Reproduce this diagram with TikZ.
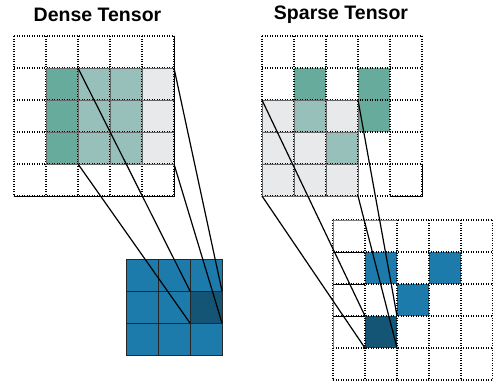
\documentclass[tikz,border=0pt]{standalone}
\usepackage{fontspec}
\setmainfont{Liberation Sans}
\definecolor{tealdark}{HTML}{66AB9C}
\definecolor{teallight}{HTML}{96C0B9}
\definecolor{greycell}{HTML}{E8E9EB}
\definecolor{bluecell}{HTML}{1C7BAB}
\definecolor{bluedark}{HTML}{145575}
\tikzset{
  gridline/.style={dash pattern=on 1.1pt off 1.4pt, line width=1.1pt, black},
  cellborder/.style={draw=black!60, line width=1pt},
  kernelborder/.style={draw=black!85, line width=1pt},
  link/.style={line width=1.2pt, black},
  title/.style={font=\bfseries\fontsize{19.5}{22}\selectfont, inner sep=0pt}
}
\newcommand{\dotgrid}[2]{%
  \foreach \k in {0,...,5} {
    \draw[gridline] (#1+32*\k,#2) -- (#1+32*\k,#2+160);
    \draw[gridline] (#1,#2+32*\k) -- (#1+160,#2+32*\k);
  }}
\begin{document}
\begin{tikzpicture}[x=1pt,y=-1pt]
\useasboundingbox (0,0) rectangle (493,383);
% titles
\node[title] (tdense) at (97.5,15) {Dense Tensor};
\node[title] (tsparse) at (341,15) {Sparse Tensor};

% ---------- dense tensor ----------
\fill[tealdark] (46,68) rectangle (78,164);
\fill[teallight] (78,68) rectangle (142,164);
\fill[greycell] (142,68) rectangle (174,164);
\dotgrid{14}{36}
\foreach \i in {0,...,3} \foreach \j in {0,...,2}
  \draw[cellborder] (46+32*\i,68+32*\j) rectangle ++(32,32);
\draw[line width=0.8pt] (174,36) -- (174,196) -- (14,196);

% ---------- sparse tensor ----------
\fill[greycell] (262,100) rectangle (358,196);
\fill[teallight] (294,100) rectangle ++(32,32);
\fill[teallight] (326,132) rectangle ++(32,32);
\fill[tealdark] (294,68) rectangle ++(32,32);
\fill[tealdark] (358,68) rectangle ++(32,64);
\dotgrid{262}{36}
\foreach \i in {0,...,2} \foreach \j in {0,...,2}
  \draw[cellborder] (262+32*\i,100+32*\j) rectangle ++(32,32);
\draw[line width=0.8pt] (390,196) -- (422,196) -- (422,164);

% ---------- kernel (dense output) ----------
\fill[bluecell] (126,259) rectangle (222,355);
\fill[bluedark] (190,291) rectangle ++(32,32);
\foreach \i in {0,...,2} \foreach \j in {0,...,2}
  \draw[kernelborder] (126+32*\i,259+32*\j) rectangle ++(32,32);

% ---------- sparse output ----------
\fill[bluecell] (365,252) rectangle ++(32,32);
\fill[bluecell] (429,252) rectangle ++(32,32);
\fill[bluecell] (397,284) rectangle ++(32,32);
\fill[bluedark] (365,316) rectangle ++(32,32);
\dotgrid{333}{220}
\draw[draw=black!50, line width=1pt] (333,348) -- (333,220) -- (397,220);
\draw[line width=1pt] (333,252) -- (365,252) (333,284) -- (365,284) (333,316) -- (365,316);

% ---------- corner coordinates ----------
\coordinate (dA) at (78,68);
\coordinate (dB) at (174,68);
\coordinate (dC) at (78,164);
\coordinate (dD) at (174,164);
\coordinate (kA) at (190,291);
\coordinate (kB) at (222,291);
\coordinate (kC) at (190,323);
\coordinate (kD) at (222,323);
\coordinate (sA) at (262,100);
\coordinate (sB) at (358,100);
\coordinate (sC) at (262,196);
\coordinate (sD) at (358,196);
\coordinate (oA) at (365,316);
\coordinate (oB) at (397,316);
\coordinate (oC) at (365,348);
\coordinate (oD) at (397,348);

\draw[link] (dA) -- (kA);
\draw[link] (dB) -- (kB);
\draw[link] (dC) -- (kC);
\draw[link] (dD) -- (kD);
\draw[link] (sA) -- (oA);
\draw[link] (sB) -- (oB);
\draw[link] (sC) -- (oC);
\draw[link] (sD) -- (oD);
\end{tikzpicture}
\end{document}
